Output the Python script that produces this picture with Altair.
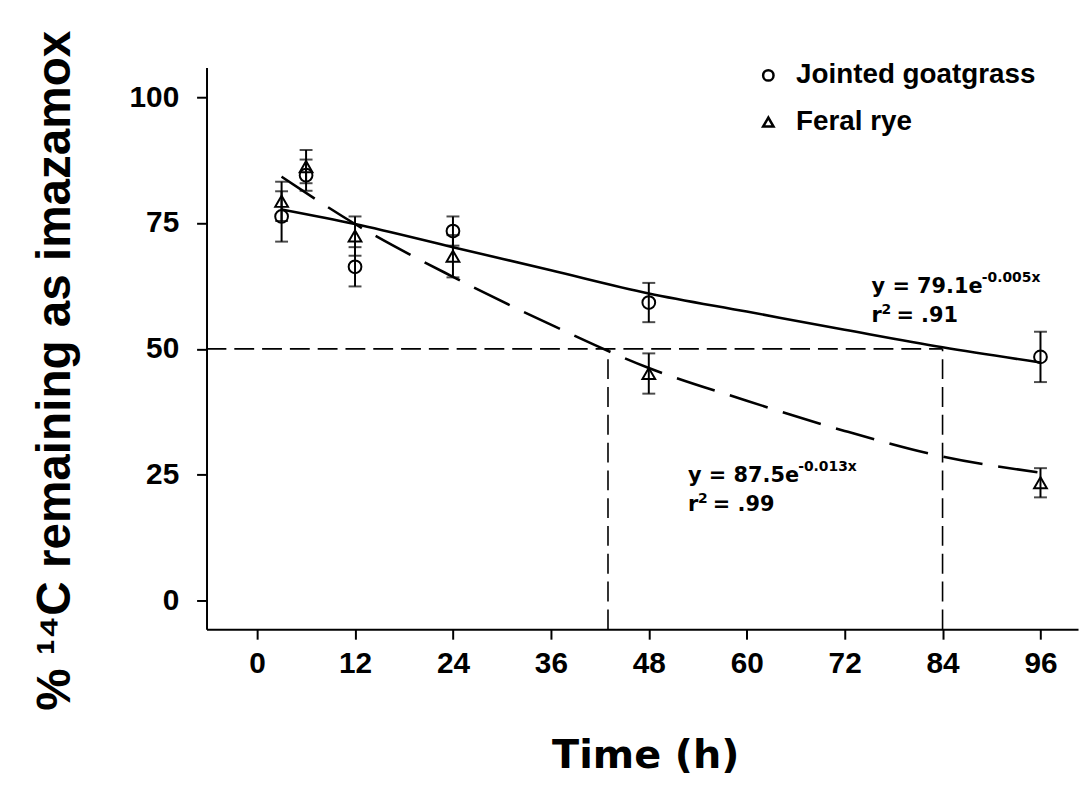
import altair as alt
import pandas as pd

# ---------------- data ----------------
series = ["Jointed goatgrass", "Feral rye"]
time_h = [3, 6, 12, 24, 48, 96]
goat_mean = [76.3, 84.5, 66.3, 73.4, 59.2, 48.4]
goat_err = [5.0, 3.1, 3.9, 2.9, 3.9, 5.0]
rye_mean = [79.3, 86.2, 72.4, 68.4, 45.1, 23.4]
rye_err = [3.9, 3.3, 3.9, 4.2, 4.0, 2.9]

fit_time = [3, 12, 24, 36, 48, 60, 72, 84, 96]
goat_fit = [77.7, 74.8, 70.2, 65.6, 61.0, 57.4, 53.8, 50.3, 47.3]
rye_fit = [84.2, 74.8, 64.3, 54.8, 46.2, 39.7, 33.7, 28.6, 25.4]

half_level = 50
half_life_h = [43, 84]

eq_x = [75.3, 52.8]
eq_y = [61.1, 23.5]
r_y = [55.4, 17.8]
eq_base = ["y = 79.1e", "y = 87.5e"]
eq_exp = ["-0.005x", "-0.013x"]
r_val = ["= .91", "= .99"]

x_ticks = [0, 12, 24, 36, 48, 60, 72, 84, 96]
y_ticks = [0, 25, 50, 75, 100]
X_DOMAIN = [-6.2, 100.6]
Y_DOMAIN = [-5.7, 105.9]

X_TITLE = "Time (h)"
Y_TITLE = "% \u00b9\u2074C remaining as imazamox"

# ---------------- tables ----------------
pts = pd.DataFrame({
    "t": time_h * 2,
    "v": goat_mean + rye_mean,
    "e": goat_err + rye_err,
    "s": [series[0]] * len(time_h) + [series[1]] * len(time_h),
})
pts["lo"] = pts["v"] - pts["e"]
pts["hi"] = pts["v"] + pts["e"]

goat_df = pd.DataFrame({"t": fit_time, "v": goat_fit})
rye_df = pd.DataFrame({"t": fit_time, "v": rye_fit})

hguide = pd.DataFrame({"t": [X_DOMAIN[0]], "t2": [max(half_life_h)], "v": [half_level]})
vguide = pd.DataFrame({"t": half_life_h, "v": [Y_DOMAIN[0]] * 2, "v2": [half_level] * 2})

eq_df = pd.DataFrame({"t": eq_x, "v": eq_y, "base": eq_base, "exp": eq_exp})
r_df = pd.DataFrame({"t": eq_x, "v": r_y, "r": ["r", "r"], "two": ["2", "2"], "val": r_val})

# ---------------- shared encodings ----------------
x_axis = alt.Axis(
    values=x_ticks, title=X_TITLE, grid=False,
    labelFont="Liberation Sans", labelFontSize=30, labelFontWeight="bold",
    labelColor="black", labelPadding=10, labelFlush=False,
    tickSize=10, tickWidth=2, tickColor="black",
    domainWidth=2, domainColor="black",
    titleFont="DejaVu Sans", titleFontSize=40, titleFontWeight="bold",
    titleColor="black", titleX=442, titleY=139, titleBaseline="alphabetic",
    titleAlign="center",
)
y_axis = alt.Axis(
    values=y_ticks, title=Y_TITLE, grid=False,
    labelFont="Liberation Sans", labelFontSize=30, labelFontWeight="bold",
    labelColor="black", labelPadding=18,
    tickSize=10, tickWidth=2, tickColor="black",
    domainWidth=2, domainColor="black",
    titleFont="Liberation Sans", titleFontSize=48, titleFontWeight="bold",
    titleColor="black", titleAngle=270, titleX=-138, titleY=305,
    titleBaseline="alphabetic", titleAlign="center",
)
x_scale = alt.Scale(domain=X_DOMAIN, nice=False, zero=False)
y_scale = alt.Scale(domain=Y_DOMAIN, nice=False, zero=False)


def X(field):
    return alt.X(f"{field}:Q", scale=x_scale, axis=x_axis, title=X_TITLE)


def Y(field):
    return alt.Y(f"{field}:Q", scale=y_scale, axis=y_axis, title=Y_TITLE)


guide_style = dict(color="black", strokeWidth=1.6, strokeDash=[20, 8])

h_layer = alt.Chart(hguide).mark_rule(**guide_style).encode(
    x=X("t"), x2="t2:Q", y=Y("v"))
v_layer = alt.Chart(vguide).mark_rule(**guide_style).encode(
    x=X("t"), y=Y("v"), y2="v2:Q")

goat_line = alt.Chart(goat_df).mark_line(
    color="black", strokeWidth=2.6, interpolate="monotone").encode(x=X("t"), y=Y("v"))
rye_line = alt.Chart(rye_df).mark_line(
    color="black", strokeWidth=2.6, strokeDash=[40, 16], interpolate="monotone").encode(
    x=X("t"), y=Y("v"))

err_rule = alt.Chart(pts).mark_rule(color="black", strokeWidth=2).encode(
    x=X("t"), y=Y("lo"), y2="hi:Q")
cap_lo = alt.Chart(pts).mark_tick(
    orient="horizontal", size=13, thickness=2, color="black").encode(x=X("t"), y=Y("lo"))
cap_hi = alt.Chart(pts).mark_tick(
    orient="horizontal", size=13, thickness=2, color="black").encode(x=X("t"), y=Y("hi"))

points = alt.Chart(pts).mark_point(
    filled=False, color="black", strokeWidth=2, size=165, opacity=1).encode(
    x=X("t"), y=Y("v"),
    shape=alt.Shape(
        "s:N",
        scale=alt.Scale(domain=series, range=["circle", "triangle-up"]),
        legend=alt.Legend(
            title=None, orient="none", legendX=552, legendY=-6, padding=0,
            labelFont="Liberation Sans", labelFontSize=28, labelFontWeight="bold",
            labelColor="black", labelOffset=14, rowPadding=19, labelLimit=0,
            symbolSize=110, symbolStrokeColor="black", symbolStrokeWidth=2.5,
            symbolFillColor="white",
        ),
    ),
)

txt = dict(font="DejaVu Sans", fontWeight="bold", color="black", align="left",
           baseline="alphabetic")
eq_main = alt.Chart(eq_df).mark_text(fontSize=21, **txt).encode(
    x=X("t"), y=Y("v"), text="base:N")
eq_sup = alt.Chart(eq_df).mark_text(fontSize=14, dx=111, dy=-11, **txt).encode(
    x=X("t"), y=Y("v"), text="exp:N")
r_main = alt.Chart(r_df).mark_text(fontSize=21, **txt).encode(
    x=X("t"), y=Y("v"), text="r:N")
r_sup = alt.Chart(r_df).mark_text(fontSize=14, dx=10, dy=-8, **txt).encode(
    x=X("t"), y=Y("v"), text="two:N")
r_rest = alt.Chart(r_df).mark_text(fontSize=21, dx=25, **txt).encode(
    x=X("t"), y=Y("v"), text="val:N")

chart = alt.layer(
    h_layer, v_layer, goat_line, rye_line, err_rule, cap_lo, cap_hi, points,
    eq_main, eq_sup, r_main, r_sup, r_rest,
).properties(
    width=878, height=566,
    autosize=alt.AutoSizeParams(type="none"),
    padding={"left": 200, "top": 57, "right": 2, "bottom": 151},
    background="white",
).configure_view(stroke=None)

chart.save("out.html", embed_options={"renderer": "svg", "actions": False})
